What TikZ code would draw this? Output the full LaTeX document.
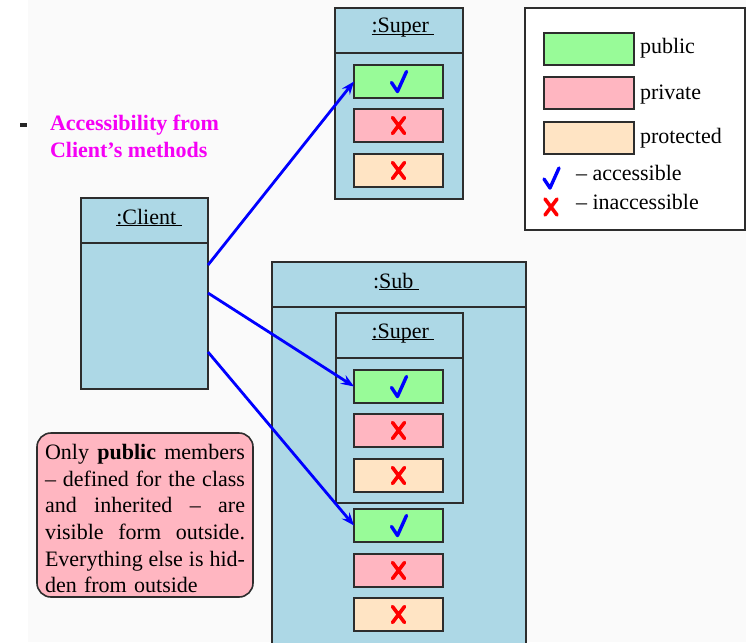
\documentclass[tikz,border=0pt]{standalone}
\usepackage{fontspec}
\setmainfont{Liberation Serif}
\usetikzlibrary{arrows.meta}

\definecolor{clsblue}{RGB}{173,216,230}
\definecolor{pubgreen}{RGB}{152,251,152}
\definecolor{privpink}{RGB}{255,182,193}
\definecolor{protpeach}{RGB}{255,228,196}
\definecolor{edge}{RGB}{45,45,45}
\definecolor{hilite}{RGB}{245,0,245}
\definecolor{paper}{RGB}{250,250,250}

% underline that sits just below the baseline
\newsavebox\ulbox
\newcommand\ulbx[1]{\sbox\ulbox{#1}\rlap{\rule[-2.4pt]{\wd\ulbox}{1.2pt}}\usebox\ulbox}
% a line spread to the full width of the note
\newcommand\fullline[1]{\makebox[200pt][s]{\spaceskip=0pt\xspaceskip=0pt\relax #1}}

\begin{document}
\begin{tikzpicture}[x=1pt,y=-1pt,
  every node/.style={inner sep=0pt, outer sep=0pt},
  box/.style={draw=edge, line width=1.6pt, fill=clsblue, rectangle, anchor=north west},
  member/.style={draw=edge, line width=1.6pt, rectangle, minimum width=89pt, minimum height=33pt, anchor=north west},
  pub/.style={member, fill=pubgreen},
  priv/.style={member, fill=privpink},
  prot/.style={member, fill=protpeach},
  title/.style={font=\fontsize{22}{26}\selectfont, anchor=base},
  legtext/.style={font=\fontsize{22}{26}\selectfont, anchor=base west},
  hl/.style={font=\fontsize{22}{27}\selectfont\bfseries, text=hilite, anchor=base west},
  acc/.style={draw=blue, line width=2.8pt, -{Stealth[length=13pt,width=10pt,inset=4.5pt]}},
  chk/.pic={\draw[blue, line width=3.4pt, line cap=round, line join=round] (-7,1) -- (-1,10) -- (8,-10);},
  crs/.pic={\draw[red, line width=3.6pt, line cap=round] (-6,-8) -- (6,8) (6,-8) -- (-6,8);}
]
\useasboundingbox (0,0) rectangle (746,642);
\fill[white] (0,0) rectangle (746,642);
\fill[paper] (28,0) rectangle (746,642);

% heading on the left
\node[fill=black!85, rectangle, minimum width=7.5pt, minimum height=4pt] (bullet) at (23.5,124.5) {};
\node[hl] (hl1) at (50,130) {Accessibility from};
\node[hl] (hl2) at (50,157) {Client’s methods};

% object :Super
\node[box, minimum width=128pt, minimum height=45pt] (suphd) at (335,8) {};
\node[box, minimum width=128pt, minimum height=146pt] (supbd) at (335,53) {};
\node[title] (supttl) at (403,33) {\ulbx{:Super\ }};
\node[pub]  (sup-pub)  at (354,65)  {};
\node[priv] (sup-priv) at (354,109) {};
\node[prot] (sup-prot) at (354,154) {};
\pic at (sup-pub) {chk};
\pic at (sup-priv) {crs};
\pic at (sup-prot) {crs};

% object :Client
\node[box, minimum width=127pt, minimum height=45pt] (clihd) at (81,198) {};
\node[box, minimum width=127pt, minimum height=146pt] (clibd) at (81,243) {};
\node[title] (clittl) at (149,224) {\ulbx{:Client\ }};
\coordinate (c1) at (208,265);
\coordinate (c2) at (208,293);
\coordinate (c3) at (208,352);

% object :Sub with its inherited :Super part
\node[box, minimum width=254pt, minimum height=45pt] (subhd) at (272,262) {};
\node[box, minimum width=254pt, minimum height=345pt] (subbd) at (272,307) {};
\node[title] (subttl) at (396,288) {:\ulbx{Sub\ }};

\node[box, minimum width=127pt, minimum height=45pt] (isuphd) at (336,313) {};
\node[box, minimum width=127pt, minimum height=145pt] (isupbd) at (336,358) {};
\node[title] (isupttl) at (403,338) {\ulbx{:Super\ }};
\node[pub]  (isup-pub)  at (354,370) {};
\node[priv] (isup-priv) at (354,414) {};
\node[prot] (isup-prot) at (354,459) {};
\pic at (isup-pub) {chk};
\pic at (isup-priv) {crs};
\pic at (isup-prot) {crs};

\node[pub]  (sub-pub)  at (354,509) {};
\node[priv] (sub-priv) at (354,554) {};
\node[prot] (sub-prot) at (354,598) {};
\pic at (sub-pub) {chk};
\pic at (sub-priv) {crs};
\pic at (sub-prot) {crs};

% legend
\node[draw=edge, line width=1.6pt, fill=white, rectangle, anchor=north west,
      minimum width=220pt, minimum height=222pt] (legend) at (525,8) {};
\node[pub,  minimum width=90pt, minimum height=32pt] (leg-pub)  at (544,33)  {};
\node[priv, minimum width=90pt, minimum height=32pt] (leg-priv) at (544,77)  {};
\node[prot, minimum width=90pt, minimum height=32pt] (leg-prot) at (544,122) {};
\node[legtext] (lt-pub)  at (640,54)  {public};
\node[legtext] (lt-priv) at (640,99)  {private};
\node[legtext] (lt-prot) at (640,143) {protected};
\coordinate (leg-chk) at (551,178);
\coordinate (leg-crs) at (551,207);
\pic at (leg-chk) {chk};
\pic at (leg-crs) {crs};
\node[legtext] (lt-acc) at (576,180) {– accessible};
\node[legtext] (lt-inacc) at (576,209) {– inaccessible};

% note
\node[draw=edge, line width=1.6pt, fill=privpink, rounded corners=14pt, rectangle,
      anchor=north west, minimum width=216pt, minimum height=164pt] (note) at (37,433) {};
\node[font=\fontsize{22}{26.7}\selectfont, text width=200pt, align=left] (notetxt) at (145,518.7)
  {\fullline{Only \textbf{public} members}\\
   \fullline{– defined for the class}\\
   \fullline{and inherited – are}\\
   \fullline{visible form outside.}\\
   \fullline{Everything else is hid-}\\
   den from outside};

% access paths from the client
\draw[acc] (c1) -- (sup-pub.west);
\draw[acc] (c2) -- (isup-pub.west);
\draw[acc] (c3) -- (sub-pub.west);
\end{tikzpicture}
\end{document}
